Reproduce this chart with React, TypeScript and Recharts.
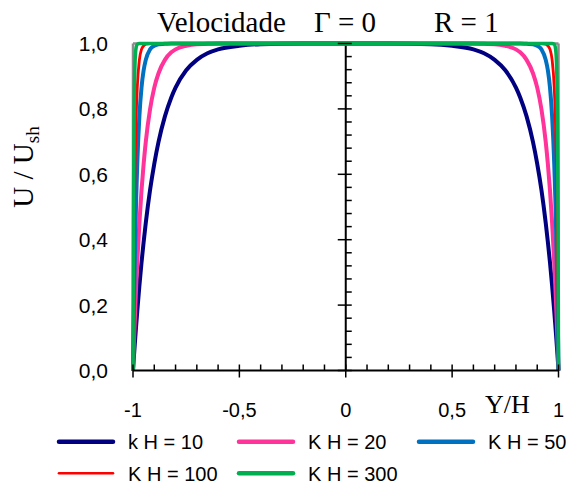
import React from "react";
import { LineChart, Line, XAxis, YAxis, ReferenceLine } from "recharts";

// Y/H positions (dense near the walls)
const Y_POS = [
  -1, -0.998, -0.995, -0.99, -0.985, -0.98, -0.97, -0.96, -0.95, -0.94, -0.92, -0.9,
  -0.88, -0.85, -0.82, -0.8, -0.75, -0.7, -0.65, -0.6, -0.5, -0.4, -0.2, 0,
  0.2, 0.4, 0.5, 0.6, 0.65, 0.7, 0.75, 0.8, 0.82, 0.85, 0.88, 0.9, 0.92, 0.94,
  0.95, 0.96, 0.97, 0.98, 0.985, 0.99, 0.995, 0.998, 1,
];

// U / Ush
const KH10 = [
  0, 0.02, 0.049, 0.095, 0.139, 0.181, 0.259, 0.33, 0.393, 0.451, 0.551, 0.632,
  0.699, 0.777, 0.835, 0.865, 0.918, 0.95, 0.97, 0.982, 0.993, 0.998, 1, 1,
  1, 0.998, 0.993, 0.982, 0.97, 0.95, 0.918, 0.865, 0.835, 0.777, 0.699, 0.632, 0.551, 0.451,
  0.393, 0.33, 0.259, 0.181, 0.139, 0.095, 0.049, 0.02, 0,
];
const KH20 = [
  0, 0.039, 0.095, 0.181, 0.259, 0.33, 0.451, 0.551, 0.632, 0.699, 0.798, 0.865,
  0.909, 0.95, 0.973, 0.982, 0.993, 0.998, 0.999, 1, 1, 1, 1, 1,
  1, 1, 1, 1, 0.999, 0.998, 0.993, 0.982, 0.973, 0.95, 0.909, 0.865, 0.798, 0.699,
  0.632, 0.551, 0.451, 0.33, 0.259, 0.181, 0.095, 0.039, 0,
];
const KH50 = [
  0, 0.095, 0.221, 0.393, 0.528, 0.632, 0.777, 0.865, 0.918, 0.95, 0.982, 0.993,
  0.998, 0.999, 1, 1, 1, 1, 1, 1, 1, 1, 1, 1,
  1, 1, 1, 1, 1, 1, 1, 1, 1, 0.999, 0.998, 0.993, 0.982, 0.95,
  0.918, 0.865, 0.777, 0.632, 0.528, 0.393, 0.221, 0.095, 0,
];
const KH100 = [
  0, 0.181, 0.393, 0.632, 0.777, 0.865, 0.95, 0.982, 0.993, 0.998, 1, 1,
  1, 1, 1, 1, 1, 1, 1, 1, 1, 1, 1, 1,
  1, 1, 1, 1, 1, 1, 1, 1, 1, 1, 1, 1, 1, 0.998,
  0.993, 0.982, 0.95, 0.865, 0.777, 0.632, 0.393, 0.181, 0,
];
const KH300 = [
  0, 0.451, 0.777, 0.95, 0.989, 0.998, 1, 1, 1, 1, 1, 1,
  1, 1, 1, 1, 1, 1, 1, 1, 1, 1, 1, 1,
  1, 1, 1, 1, 1, 1, 1, 1, 1, 1, 1, 1, 1, 1,
  1, 1, 1, 0.998, 0.989, 0.95, 0.777, 0.451, 0,
];

const X_TICKS = [-1, -0.9, -0.8, -0.7, -0.6, -0.5, -0.4, -0.3, -0.2, -0.1, 0, 0.1, 0.2, 0.3, 0.4, 0.5, 0.6, 0.7, 0.8, 0.9, 1];
const Y_TICKS = [
  0, 0.04, 0.08, 0.12, 0.16, 0.2, 0.24, 0.28, 0.32, 0.36, 0.4, 0.44, 0.48, 0.52, 0.56, 0.6,
  0.64, 0.68, 0.72, 0.76, 0.8, 0.84, 0.88, 0.92, 0.96, 1,
];

const SERIES = [
  { key: "k10", name: "k H = 10", color: "#000080", width: 4, legendWidth: 4.5, values: KH10 },
  { key: "k20", name: "K H = 20", color: "#FF3399", width: 4, legendWidth: 4.5, values: KH20 },
  { key: "k50", name: "K H = 50", color: "#0070C0", width: 4, legendWidth: 4.5, values: KH50 },
  { key: "k100", name: "K H = 100", color: "#FF0000", width: 2.8, legendWidth: 2.6, values: KH100 },
  { key: "k300", name: "K H = 300", color: "#00B050", width: 3.5, legendWidth: 4.5, values: KH300 },
];

const rows = Y_POS.map((y, i) => {
  const r: Record<string, number> = { y };
  SERIES.forEach((s) => (r[s.key] = s.values[i]));
  return r;
});

const W = 570;
const H = 487;
const PL = 133;
const PR = 558.5;
const PT = 43.5;
const PB = 370.5;
const CX = (PL + PR) / 2;

const SANS = "'Liberation Sans', Arial, sans-serif";
const SERIF = "'Liberation Serif', 'Times New Roman', serif";

const YTick = (props: any) => {
  const { y, payload } = props;
  const v = payload.value as number;
  const major = Math.round(v * 100) % 20 === 0;
  return (
    <g>
      {major && (
        <text x={108} y={y + 7.5} textAnchor="end" fontFamily={SANS} fontSize={21} fill="#000">
          {v.toFixed(1).replace(".", ",")}
        </text>
      )}
      <line x1={major ? CX - 8 : CX} x2={CX + 6} y1={y} y2={y} stroke="#000" strokeWidth={1.5} />
    </g>
  );
};

const XTick = (props: any) => {
  const { payload } = props;
  const x = payload.coordinate ?? props.x;
  const v = payload.value as number;
  const major = Math.round(v * 10) % 5 === 0;
  const label = v === 0 ? "0" : String(v).replace(".", ",");
  return (
    <g>
      <line x1={x} x2={x} y1={PB - 6} y2={major ? PB + 7 : PB} stroke="#000" strokeWidth={1.5} />
      {major && (
        <text x={x} y={417} textAnchor="middle" fontFamily={SANS} fontSize={20} fill="#000">
          {label}
        </text>
      )}
    </g>
  );
};

export default function App() {
  return (
    <div style={{ position: "absolute", left: 0, top: 0, width: W, height: H, background: "#fff" }}>
      <LineChart
        width={W}
        height={H}
        data={rows}
        margin={{ top: PT, right: W - PR, bottom: H - PB - 1, left: PL - 1 }}
      >
        <XAxis
          dataKey="y"
          type="number"
          domain={[-1, 1]}
          ticks={X_TICKS}
          interval={0}
          height={1}
          tickLine={false}
          axisLine={{ stroke: "#000", strokeWidth: 1.8 }}
          tick={<XTick />}
        />
        <YAxis
          type="number"
          domain={[0, 1]}
          ticks={Y_TICKS}
          interval={0}
          width={1}
          tickLine={false}
          axisLine={false}
          tick={<YTick />}
        />
        <ReferenceLine y={1} stroke="#8c8c8c" strokeWidth={2.5} />
        <ReferenceLine x={-1} stroke="#8c8c8c" strokeWidth={2.5} />
        <ReferenceLine x={1} stroke="#8c8c8c" strokeWidth={2.5} />
        <ReferenceLine x={0} stroke="#000" strokeWidth={2} />
        {SERIES.map((s) => (
          <Line
            key={s.key}
            dataKey={s.key}
            name={s.name}
            type="monotone"
            stroke={s.color}
            strokeWidth={s.width}
            dot={false}
            activeDot={false}
            isAnimationActive={false}
          />
        ))}
      </LineChart>
      <svg width={W} height={H} style={{ position: "absolute", left: 0, top: 0, pointerEvents: "none" }}>
        <g fontFamily={SERIF} fontSize={29} fill="#000">
          <text x={157} y={32}>Velocidade</text>
          <text x={314} y={32}>Γ = 0</text>
          <text x={434} y={32}>R = 1</text>
        </g>
        <text x={485} y={413} fontFamily={SERIF} fontSize={26} fill="#000">
          Y/H
        </text>
        <text
          x={33}
          y={167}
          transform="rotate(-90 33 167)"
          textAnchor="middle"
          fontFamily={SERIF}
          fontSize={29}
          fill="#000"
        >
          U / U
          <tspan fontSize={19} dy={6}>
            sh
          </tspan>
        </text>
        {SERIES.map((s, i) => {
          const col = i % 3;
          const row = Math.floor(i / 3);
          const lx = 59 + col * 180;
          const ly = 441.7 + row * 31.6;
          return (
            <g key={s.key}>
              <line x1={lx} x2={lx + 54} y1={ly} y2={ly} stroke={s.color} strokeWidth={s.legendWidth} strokeLinecap="round" />
              <text x={lx + 69} y={ly + 7.3} fontFamily={SANS} fontSize={20} fill="#000">
                {s.name}
              </text>
            </g>
          );
        })}
      </svg>
    </div>
  );
}
